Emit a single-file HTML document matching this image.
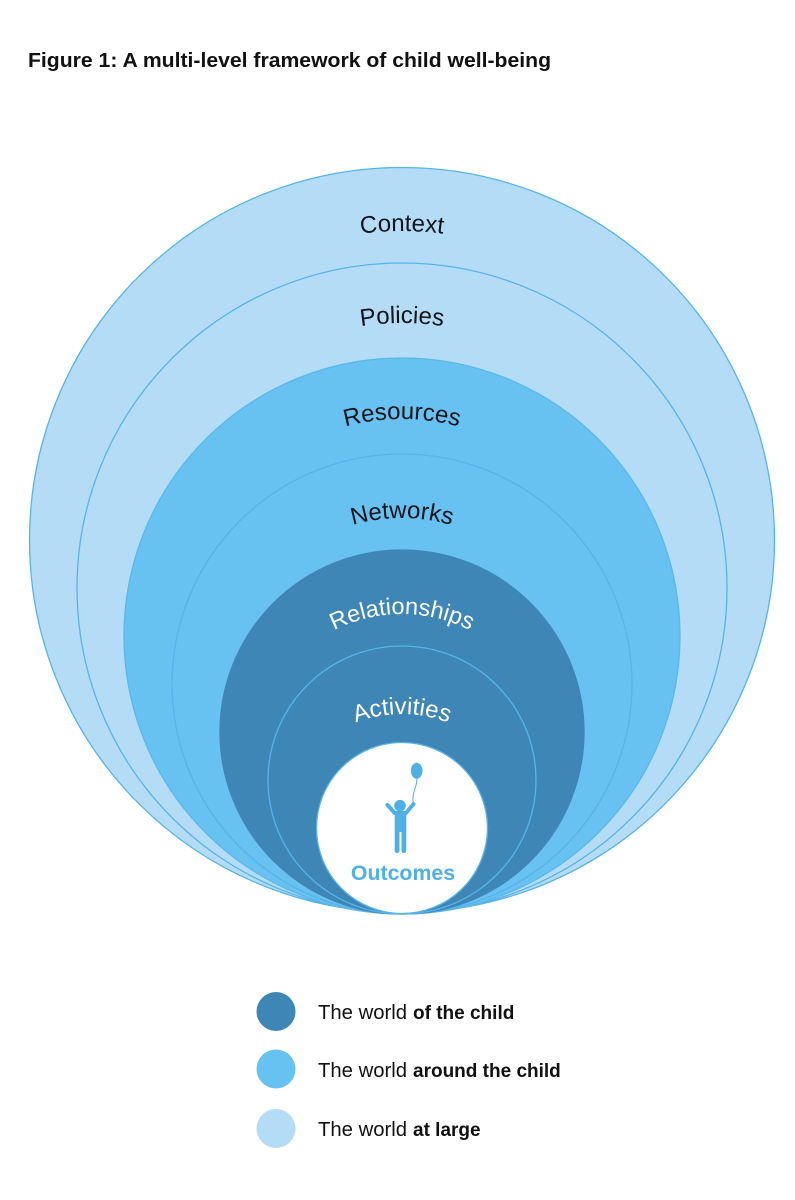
<!DOCTYPE html>
<html><head><meta charset="utf-8"><style>
html,body{margin:0;padding:0;background:#fff}
svg{display:block}
text{font-family:"Liberation Sans",sans-serif}
</style></head><body>
<svg width="795" height="1200" viewBox="0 0 795 1200" xmlns="http://www.w3.org/2000/svg">
<defs>
<path id="p1" d="M92,541 A310,310 0 0 1 712,541"/>
<path id="p2" d="M136,589 A266,266 0 0 1 668,589"/>
<path id="p3" d="M184,637 A218,218 0 0 1 620,637"/>
<path id="p4" d="M226,694 A176,176 0 0 1 578,694"/>
<path id="p5" d="M252,764 A150,150 0 0 1 552,764"/>
<path id="p6" d="M272,844 A130,130 0 0 1 532,844"/>
</defs>
<text x="28" y="67" font-size="20" font-weight="bold" fill="#111" textLength="523" lengthAdjust="spacingAndGlyphs">Figure 1: A multi-level framework of child well-being</text>
<g stroke="#56b4ea" stroke-width="1.3">
<circle cx="402" cy="540" r="372.5" fill="#b5dcf6"/>
<circle cx="402" cy="588" r="325" fill="#b5dcf6"/>
<circle cx="402" cy="636" r="278" fill="#67c1f1" stroke="#5ab8ec"/>
<circle cx="402" cy="684" r="230" fill="#67c1f1" stroke="#56b4ea"/>
<circle cx="402" cy="732" r="182" fill="#3e86b6" stroke="#3e86b6"/>
<circle cx="402" cy="780" r="134" fill="#3e86b6" stroke="#56b4ea"/>
<circle cx="402" cy="828" r="85.5" fill="#fff" stroke="#56b4ea"/>
</g>
<g font-size="24" text-anchor="middle">
<text fill="#10151c"><textPath href="#p1" startOffset="50%">Context</textPath></text>
<text fill="#10151c"><textPath href="#p2" startOffset="50%">Policies</textPath></text>
<text fill="#10151c"><textPath href="#p3" startOffset="50%">Resources</textPath></text>
<text fill="#10151c"><textPath href="#p4" startOffset="50%">Networks</textPath></text>
<text fill="#fff" font-size="23.500"><textPath href="#p5" startOffset="50%">Relationships</textPath></text>
<text fill="#fff"><textPath href="#p6" startOffset="50%">Activities</textPath></text>
</g>
<g fill="#4fb0e6">
<ellipse cx="416.700" cy="770.700" rx="5.800" ry="8"/>
<path d="M416.700,778 C418,786 412,790 413,803" fill="none" stroke="#4fb0e6" stroke-width="1"/>
<circle cx="400" cy="805.700" r="5.800"/>
<path d="M387.500,805 L394.700,813 H406 L413.500,804" fill="none" stroke="#4fb0e6" stroke-width="4" stroke-linecap="round" stroke-linejoin="round"/>
<path d="M394.700,812 H406.300 V850.500 Q406.300,853 403.800,853 Q401.500,853 401.500,850.500 V832 H399.500 V850.500 Q399.500,853 397,853 Q394.700,853 394.700,850.500 Z"/>
</g>
<text x="403" y="880" font-size="21.300" font-weight="bold" fill="#4fb0e6" text-anchor="middle">Outcomes</text>
<circle cx="276" cy="1011.500" r="19.500" fill="#3e86b6"/>
<circle cx="276" cy="1069" r="19.500" fill="#67c1f1"/>
<circle cx="276" cy="1128.500" r="19.500" fill="#b5dcf6"/>
<g font-size="20.300" fill="#111">
<text x="318" y="1019">The world <tspan x="413" font-size="19" font-weight="bold">of the child</tspan></text>
<text x="318" y="1077">The world <tspan x="413" font-size="19" font-weight="bold">around the child</tspan></text>
<text x="318" y="1136">The world <tspan x="413" font-size="19" font-weight="bold">at large</tspan></text>
</g>
</svg>
</body></html>
